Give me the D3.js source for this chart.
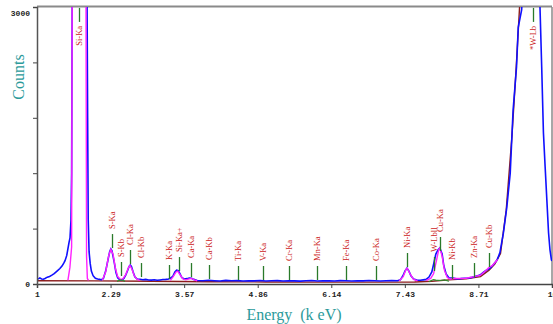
<!DOCTYPE html>
<html>
<head>
<meta charset="utf-8">
<script src="https://cdn.jsdelivr.net/npm/d3@7"></script>
<style>
html, body { margin: 0; padding: 0; background: #fff; }
svg { display: block; }
</style>
</head>
<body>
<svg id="chart" width="553" height="324"></svg>
<script>
// x axis: energy in keV, y axis: counts
const xTicks = [1, 2.2857, 3.5714, 4.8571, 6.1429, 7.4286, 8.7143, 10];
const xTickLabels = ['1', '2.29', '3.57', '4.86', '6.14', '7.43', '8.71', '10'];
const yTicks = [0, 600, 1200, 1800, 2400, 3000];
const yTickLabels = ['0', '', '', '', '', '3000'];

// measured spectrum [keV, counts]
const spectrum = [
	[1.00, 52], [1.03, 58], [1.05, 66], [1.08, 55], [1.11, 52], [1.14, 60], [1.18, 74], [1.22, 82],
	[1.26, 96], [1.30, 112], [1.35, 140], [1.40, 168], [1.44, 196], [1.47, 228], [1.49, 252], [1.52, 310],
	[1.54, 380], [1.56, 450], [1.577, 500], [1.594, 690], [1.605, 1200], [1.618, 3600], [1.70, 12000],
	[1.80, 12000], [1.872, 3400], [1.885, 1800], [1.895, 700], [1.91, 350], [1.93, 220], [1.95, 140],
	[1.98, 90], [2.02, 62], [2.06, 55], [2.10, 50], [2.13, 48], [2.16, 60], [2.20, 140], [2.24, 260],
	[2.27, 350], [2.29, 380], [2.31, 360], [2.35, 235], [2.38, 125], [2.41, 68], [2.45, 44], [2.49, 45],
	[2.52, 62], [2.55, 95], [2.58, 140], [2.61, 190], [2.63, 205], [2.65, 190], [2.68, 130], [2.71, 78],
	[2.75, 54], [2.80, 52], [2.85, 46], [2.90, 50], [2.95, 44], [3.00, 42], [3.05, 46], [3.10, 40],
	[3.15, 44], [3.20, 48], [3.25, 50], [3.30, 55], [3.35, 70], [3.38, 90], [3.41, 130], [3.44, 150],
	[3.47, 145], [3.50, 110], [3.53, 70], [3.57, 55], [3.62, 58], [3.66, 65], [3.70, 62], [3.74, 50],
	[3.80, 38], [3.90, 36], [4.00, 40], [4.10, 36], [4.20, 33], [4.30, 39], [4.40, 35], [4.50, 37],
	[4.60, 32], [4.70, 36], [4.80, 34], [4.90, 38], [5.00, 33], [5.10, 35], [5.20, 37], [5.30, 32],
	[5.40, 36], [5.50, 34], [5.60, 31], [5.70, 35], [5.80, 38], [5.90, 33], [6.00, 36], [6.10, 34],
	[6.20, 32], [6.30, 37], [6.40, 35], [6.50, 33], [6.60, 36], [6.70, 34], [6.80, 38], [6.90, 35],
	[7.00, 33], [7.10, 36], [7.20, 38], [7.30, 36], [7.35, 45], [7.40, 95], [7.43, 140], [7.465, 172],
	[7.50, 140], [7.535, 88], [7.58, 55], [7.64, 42], [7.70, 40], [7.75, 45], [7.80, 50], [7.85, 75],
	[7.90, 130], [7.94, 238], [7.97, 325], [8.01, 370], [8.04, 390], [8.08, 325], [8.11, 195], [8.15, 108],
	[8.20, 65], [8.27, 64], [8.33, 56], [8.40, 58], [8.47, 62], [8.53, 64], [8.60, 72], [8.67, 85],
	[8.74, 96], [8.81, 130], [8.86, 152], [8.92, 173], [8.97, 206], [9.04, 260], [9.09, 340], [9.15, 550],
	[9.21, 830], [9.27, 1200], [9.32, 1880], [9.38, 2350], [9.41, 2780], [9.47, 2970], [9.50, 3500],
	[9.60, 9000], [9.72, 9000], [9.79, 3000], [9.82, 2350], [9.85, 1640], [9.88, 1270], [9.91, 910],
	[9.94, 552], [9.965, 368], [9.99, 260], [10.0, 250]
];

// peak fits [keV, counts], one list per fitted region
const fitSi = [[1.54, 40], [1.575, 180], [1.605, 400], [1.615, 3200], [1.74, 40000], [1.856, 3200], [1.866, 300], [1.88, 60], [1.90, 40]];
const fitSCl = [
	[2.14, 40], [2.20, 130], [2.25, 300], [2.29, 375], [2.33, 320], [2.37, 170], [2.41, 80], [2.46, 50],
	[2.50, 55], [2.55, 100], [2.60, 180], [2.625, 200], [2.66, 160], [2.70, 90], [2.75, 50], [2.80, 40]
];
const fitCa = [[3.33, 40], [3.38, 80], [3.43, 130], [3.46, 140], [3.50, 100], [3.55, 55], [3.60, 45], [3.66, 55], [3.70, 60], [3.75, 45], [3.80, 35]];
const fitNi = [[7.33, 35], [7.40, 80], [7.45, 160], [7.47, 170], [7.52, 110], [7.58, 50], [7.65, 35]];
const fitCu = [
	[7.80, 40], [7.88, 60], [7.93, 110], [7.98, 250], [8.02, 370], [8.04, 390], [8.08, 300], [8.12, 150],
	[8.17, 70], [8.22, 55], [8.30, 60], [8.50, 62], [8.64, 80], [8.75, 95], [8.85, 150], [8.90, 180],
	[8.95, 195], [9.00, 230], [9.05, 265]
];

// background [keV, counts]
const background = [
	[1.0, 36], [2.0, 34], [3.0, 30], [4.0, 25], [5.0, 22], [6.0, 20], [7.0, 20], [7.6, 22], [7.9, 30],
	[8.2, 45], [8.5, 55], [8.75, 80], [8.9, 150], [9.0, 215], [9.1, 330], [9.2, 800], [9.3, 1600],
	[9.37, 2300], [9.42, 2850], [9.46, 3300]
];

// single line components [keV, counts]
const compSKb = [[2.40, 28], [2.44, 40], [2.47, 45], [2.50, 38], [2.54, 28]];
const compW = [[7.85, 25], [7.90, 40], [7.93, 48], [7.97, 42], [8.05, 38], [8.12, 45], [8.20, 30]];

// element line markers
const lineNames = ['Si-Ka', 'S-Ka', 'S-Kb', 'Cl-Ka', 'Cl-Kb', 'K-Ka', 'Si-Ka+', 'Ca-Ka', 'Ca-Kb', 'Ti-Ka', 'V-Ka',
	'Cr-Ka', 'Mn-Ka', 'Fe-Ka', 'Co-Ka', 'Ni-Ka', 'W-Lbll', 'Cu-Ka', 'Ni-Kb', 'Zn-Ka', 'Cu-Kb', '*W-Lb'];
const lineEnergies = [1.74, 2.31, 2.46, 2.62, 2.82, 3.31, 3.48, 3.69, 4.01, 4.51, 4.95,
	5.41, 5.90, 6.40, 6.93, 7.47, 7.93, 8.04, 8.26, 8.63, 8.90, 9.663];
const lineHeights = [2990, 541, 238, 368, 227, 206, 292, 227, 206, 195, 195,
	195, 195, 195, 195, 336, 292, 509, 206, 227, 336, 2990];

const svg = d3.select('#chart');
const plotLeft = 37, plotRight = 552, plotTop = 7, plotBottom = 284;

const x = d3.scaleLinear().domain([1, 10]).range([plotLeft, plotRight]);
const y = d3.scaleLinear().domain([0, 3000]).range([plotBottom, plotTop]);

svg.append('defs').append('clipPath').attr('id', 'plot-clip')
	.append('rect')
	.attr('x', plotLeft)
	.attr('y', plotTop)
	.attr('width', plotRight - plotLeft)
	.attr('height', plotBottom - plotTop);

// frame
svg.append('line').attr('x1', plotLeft).attr('x2', plotRight).attr('y1', plotTop - 0.5).attr('y2', plotTop - 0.5)
	.attr('stroke', '#8a8a8a').attr('stroke-width', 2);
svg.append('line').attr('x1', plotRight).attr('x2', plotRight).attr('y1', plotTop).attr('y2', plotBottom)
	.attr('stroke', '#8a8a8a').attr('stroke-width', 1.5);

const line = d3.line().x((d) => x(d[0])).y((d) => y(d[1]));

const plot = svg.append('g').attr('clip-path', 'url(#plot-clip)');

plot.append('path').datum(background)
	.attr('d', line).attr('fill', 'none').attr('stroke', '#8b1c1c').attr('stroke-width', 1.4);

plot.append('path').datum(spectrum)
	.attr('d', line).attr('fill', 'none').attr('stroke', '#1010ff').attr('stroke-width', 1.6);

plot.selectAll('path.fit')
	.data([fitSi, fitSCl, fitCa, fitNi, fitCu])
	.enter()
	.append('path')
	.attr('class', 'fit')
	.attr('d', line)
	.attr('fill', 'none')
	.attr('stroke', '#ff22ff')
	.attr('stroke-width', 1.4);

plot.selectAll('path.comp')
	.data([compSKb, compW])
	.enter()
	.append('path')
	.attr('class', 'comp')
	.attr('d', line)
	.attr('fill', 'none')
	.attr('stroke', '#2e8b2e')
	.attr('stroke-width', 1.2);

// markers + labels
const markerLen = 14;
const markers = lineNames.map((name, i) => ({ name, e: lineEnergies[i], h: lineHeights[i] }));

const markerGroup = svg.append('g');
markerGroup.selectAll('line')
	.data(markers)
	.enter()
	.append('line')
	.attr('x1', (d) => Math.round(x(d.e)) + 0.5)
	.attr('x2', (d) => Math.round(x(d.e)) + 0.5)
	.attr('y1', (d) => y(d.h))
	.attr('y2', (d) => y(d.h) + markerLen)
	.attr('stroke', '#2a7a2a')
	.attr('stroke-width', 1.3);

markerGroup.selectAll('text')
	.data(markers)
	.enter()
	.append('text')
	.attr('transform', (d) => {
		const px = Math.round(x(d.e)) + 0.5;
		// labels near the top sit under their marker
		const py = d.h > 2500 ? y(d.h) + markerLen + 4 : y(d.h) - 5;
		return `translate(${px},${py}) rotate(-90)`;
	})
	.attr('text-anchor', (d) => (d.h > 2500 ? 'end' : 'start'))
	.attr('dy', '0.35em')
	.attr('fill', '#cc2222')
	.attr('font-family', '"Liberation Serif", "Times New Roman", serif')
	.attr('font-size', '8.5px')
	.text((d) => d.name);

// axes
const xAxis = svg.append('g')
	.attr('transform', `translate(0,${plotBottom})`)
	.call(d3.axisBottom(x).tickValues(xTicks).tickSize(4).tickPadding(3)
		.tickFormat((d, i) => xTickLabels[i]));
xAxis.select('.domain').attr('stroke', '#444').attr('stroke-width', 1.5);
xAxis.selectAll('.tick line').attr('stroke', '#444');
xAxis.selectAll('.tick text')
	.attr('fill', '#222')
	.attr('font-family', '"Liberation Mono", "DejaVu Sans Mono", monospace')
	.attr('font-weight', 'bold')
	.attr('font-size', '8px');

const yAxis = svg.append('g')
	.attr('transform', `translate(${plotLeft},0)`)
	.call(d3.axisLeft(y).tickValues(yTicks).tickSize(4).tickPadding(3)
		.tickFormat((d, i) => yTickLabels[i]));
yAxis.select('.domain').attr('stroke', '#555').attr('stroke-width', 1.5);
yAxis.selectAll('.tick line').attr('stroke', '#444');
yAxis.selectAll('.tick text')
	.attr('fill', '#222')
	.attr('font-family', '"Liberation Mono", "DejaVu Sans Mono", monospace')
	.attr('font-weight', 'bold')
	.attr('font-size', '8px')
	.attr('dy', (d) => (d === 3000 ? '1em' : '0.32em'));

// axis titles
svg.append('text')
	.attr('transform', 'translate(24,77) rotate(-90)')
	.attr('text-anchor', 'middle')
	.attr('fill', '#2b9a9a')
	.attr('font-family', '"Liberation Serif", "Times New Roman", serif')
	.attr('font-size', '16px')
	.text('Counts');

svg.append('text')
	.attr('x', 294)
	.attr('y', 320)
	.attr('text-anchor', 'middle')
	.attr('fill', '#2b9a9a')
	.attr('font-family', '"Liberation Serif", "Times New Roman", serif')
	.attr('font-size', '16px')
	.attr('xml:space', 'preserve')
	.style('white-space', 'pre')
	.text('Energy  (k eV)');
</script>
</body>
</html>
